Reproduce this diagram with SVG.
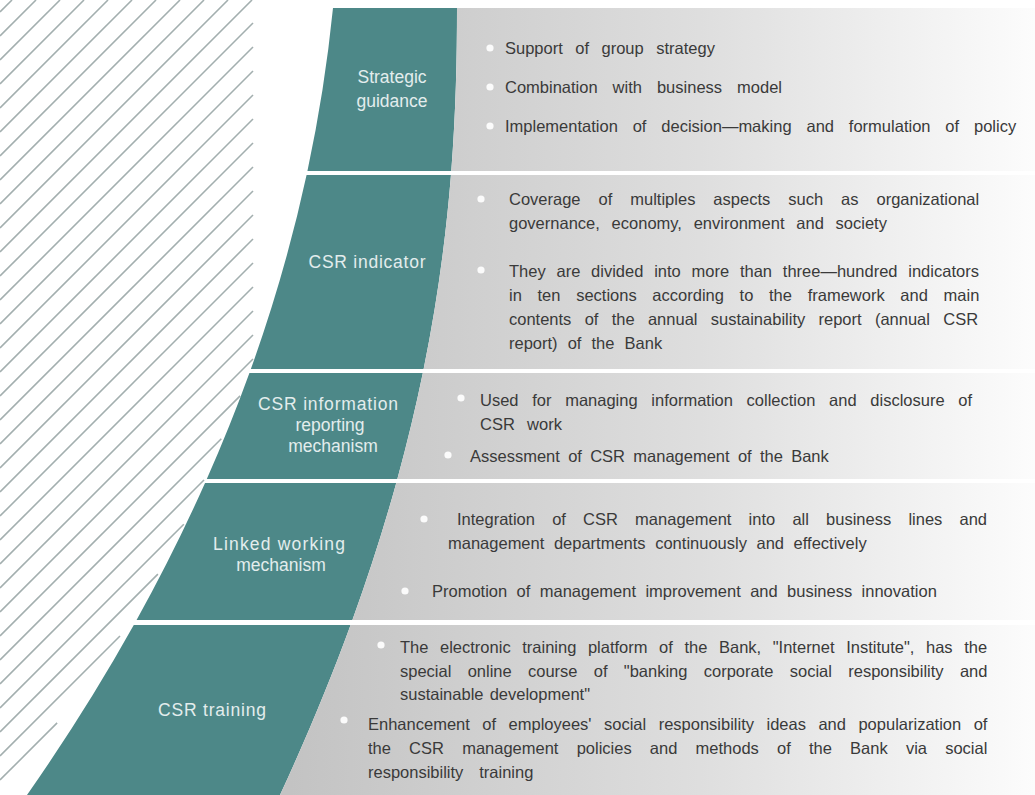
<svg xmlns="http://www.w3.org/2000/svg" xmlns:xlink="http://www.w3.org/1999/xlink" width="1035" height="795" viewBox="0 0 1035 795">
<style>
.t{font-family:"Liberation Sans",Arial,sans-serif;font-size:16.5px;fill:#3a3a3a}
.lb{font-family:"Liberation Sans",Arial,sans-serif;font-size:17.5px;fill:#e3eded;text-anchor:middle}
.b{fill:#fbfbfb}
.h{stroke:#a3afaf;stroke-width:1.6;fill:none}
</style>
<defs>
<linearGradient id="grayGrad" gradientUnits="userSpaceOnUse" x1="290" y1="0" x2="1035" y2="0">
<stop offset="0" stop-color="#c3c3c3"/>
<stop offset="0.55" stop-color="#dedede"/>
<stop offset="1" stop-color="#fcfcfc"/>
</linearGradient>
<path id="teal" d="M333,8 L457,8 C457,200 440,450 280,795 L27,795 Q292,416 333,8 Z" fill="#4d8888"/>
<path id="gray" d="M457,8 L1035,8 L1035,795 L280,795 C440,450 457,200 457,8 Z" fill="url(#grayGrad)"/>
<clipPath id="c1"><rect x="0" y="0" width="1035" height="171"/></clipPath>
<clipPath id="c2"><rect x="0" y="175" width="1035" height="194"/></clipPath>
<clipPath id="c3"><rect x="0" y="373" width="1035" height="106"/></clipPath>
<clipPath id="c4"><rect x="0" y="483" width="1035" height="137"/></clipPath>
<clipPath id="c5"><rect x="0" y="625" width="1035" height="170"/></clipPath>
</defs>
<rect width="1035" height="795" fill="#ffffff"/>
<g id="hatching">
<line class="h" x1="0" y1="12" x2="12" y2="0"/>
<line class="h" x1="0" y1="36" x2="36" y2="0"/>
<line class="h" x1="0" y1="60" x2="60" y2="0"/>
<line class="h" x1="0" y1="84" x2="84" y2="0"/>
<line class="h" x1="0" y1="108" x2="108" y2="0"/>
<line class="h" x1="0" y1="132" x2="132" y2="0"/>
<line class="h" x1="0" y1="156" x2="156" y2="0"/>
<line class="h" x1="0" y1="180" x2="180" y2="0"/>
<line class="h" x1="0" y1="204" x2="204" y2="0"/>
<line class="h" x1="0" y1="228" x2="228" y2="0"/>
<line class="h" x1="0" y1="252" x2="252" y2="0"/>
<line class="h" x1="0" y1="276" x2="253" y2="23"/>
<line class="h" x1="0" y1="300" x2="253" y2="47"/>
<line class="h" x1="0" y1="324" x2="253" y2="71"/>
<line class="h" x1="0" y1="348" x2="253" y2="95"/>
<line class="h" x1="0" y1="372" x2="253" y2="119"/>
<line class="h" x1="0" y1="396" x2="253" y2="143"/>
<line class="h" x1="0" y1="420" x2="253" y2="167"/>
<line class="h" x1="0" y1="444" x2="253" y2="191"/>
<line class="h" x1="0" y1="468" x2="253" y2="215"/>
<line class="h" x1="0" y1="492" x2="253" y2="239"/>
<line class="h" x1="0" y1="516" x2="253" y2="263"/>
<line class="h" x1="0" y1="540" x2="253" y2="287"/>
<line class="h" x1="0" y1="564" x2="253" y2="311"/>
<line class="h" x1="0" y1="588" x2="253" y2="335"/>
<line class="h" x1="0" y1="612" x2="253" y2="359"/>
<line class="h" x1="0" y1="636" x2="240.1" y2="395.9"/>
<line class="h" x1="0" y1="660" x2="221.3" y2="438.7"/>
<line class="h" x1="0" y1="684" x2="204" y2="480"/>
<line class="h" x1="0" y1="708" x2="183.8" y2="524.2"/>
<line class="h" x1="0" y1="732" x2="157.9" y2="574.1"/>
<line class="h" x1="0" y1="756" x2="120" y2="636"/>
<line class="h" x1="0" y1="780" x2="57.1" y2="722.9"/>
</g>
<g id="connectors"></g>
<g id="node-strategic-guidance">
<g clip-path="url(#c1)"><use xlink:href="#teal"/><use xlink:href="#gray"/></g>
<text class="lb" x="392" y="83">Strategic</text>
<text class="lb" x="392" y="107">guidance</text>
<circle class="b" cx="490" cy="48" r="3.6"/>
<circle class="b" cx="490" cy="87" r="3.6"/>
<circle class="b" cx="490" cy="126" r="3.6"/>
<text class="t" x="505" y="54" word-spacing="7.9">Support of group strategy</text>
<text class="t" x="505" y="93" word-spacing="10.4">Combination with business model</text>
<text class="t" x="505" y="132" word-spacing="10.3">Implementation of decision—making and formulation of policy</text>
</g>
<g id="node-csr-indicator">
<g clip-path="url(#c2)"><use xlink:href="#teal"/><use xlink:href="#gray"/></g>
<text class="lb" x="367" y="268" textLength="117" lengthAdjust="spacing">CSR  indicator</text>
<circle class="b" cx="481" cy="199" r="3.6"/>
<circle class="b" cx="481" cy="270" r="3.6"/>
<text class="t" x="509" y="205" word-spacing="13.4">Coverage of multiples aspects such as organizational</text>
<text class="t" x="509" y="229" word-spacing="7.2">governance, economy, environment and society</text>
<text class="t" x="509" y="277" word-spacing="6.2">They are divided into more than three—hundred indicators</text>
<text class="t" x="509" y="301" word-spacing="11.1">in ten sections according to the framework and main</text>
<text class="t" x="509" y="325" word-spacing="8.7">contents of the annual sustainability report (annual CSR</text>
<text class="t" x="509" y="349" word-spacing="5.5">report) of the Bank</text>
</g>
<g id="node-csr-information-reporting">
<g clip-path="url(#c3)"><use xlink:href="#teal"/><use xlink:href="#gray"/></g>
<text class="lb" x="328" y="410" textLength="140" lengthAdjust="spacing">CSR  information</text>
<text class="lb" x="330" y="431">reporting</text>
<text class="lb" x="333" y="452">mechanism</text>
<circle class="b" cx="461" cy="398" r="3.6"/>
<circle class="b" cx="448" cy="455" r="3.6"/>
<text class="t" x="480" y="406" word-spacing="9.1">Used for managing information collection and disclosure of</text>
<text class="t" x="480" y="430" word-spacing="7.7">CSR work</text>
<text class="t" x="470" y="462" word-spacing="3.7">Assessment of CSR management of the Bank</text>
</g>
<g id="node-linked-working">
<g clip-path="url(#c4)"><use xlink:href="#teal"/><use xlink:href="#gray"/></g>
<text class="lb" x="279" y="550" textLength="132" lengthAdjust="spacing">Linked working</text>
<text class="lb" x="281" y="571">mechanism</text>
<circle class="b" cx="424" cy="519" r="3.6"/>
<circle class="b" cx="405" cy="591" r="3.6"/>
<text class="t" x="457" y="525" word-spacing="12.6">Integration of CSR management into all business lines and</text>
<text class="t" x="448" y="549" word-spacing="5">management departments continuously and effectively</text>
<text class="t" x="432" y="597" word-spacing="4.8">Promotion of management improvement and business innovation</text>
</g>
<g id="node-csr-training">
<g clip-path="url(#c5)"><use xlink:href="#teal"/><use xlink:href="#gray"/></g>
<text class="lb" x="212" y="716" textLength="108" lengthAdjust="spacing">CSR  training</text>
<circle class="b" cx="381" cy="645" r="3.6"/>
<circle class="b" cx="344" cy="720" r="3.6"/>
<text class="t" x="400" y="653" word-spacing="7">The electronic training platform of the Bank, "Internet Institute", has the</text>
<text class="t" x="400" y="677" word-spacing="11.7">special online course of "banking corporate social responsibility and</text>
<text class="t" x="400" y="700" word-spacing="1.6">sustainable development"</text>
<text class="t" x="368" y="730" word-spacing="7.9">Enhancement of employees' social responsibility ideas and popularization of</text>
<text class="t" x="368" y="754" word-spacing="13.6">the CSR management policies and methods of the Bank via social</text>
<text class="t" x="368" y="778" word-spacing="11.3">responsibility training</text>
</g>
</svg>
